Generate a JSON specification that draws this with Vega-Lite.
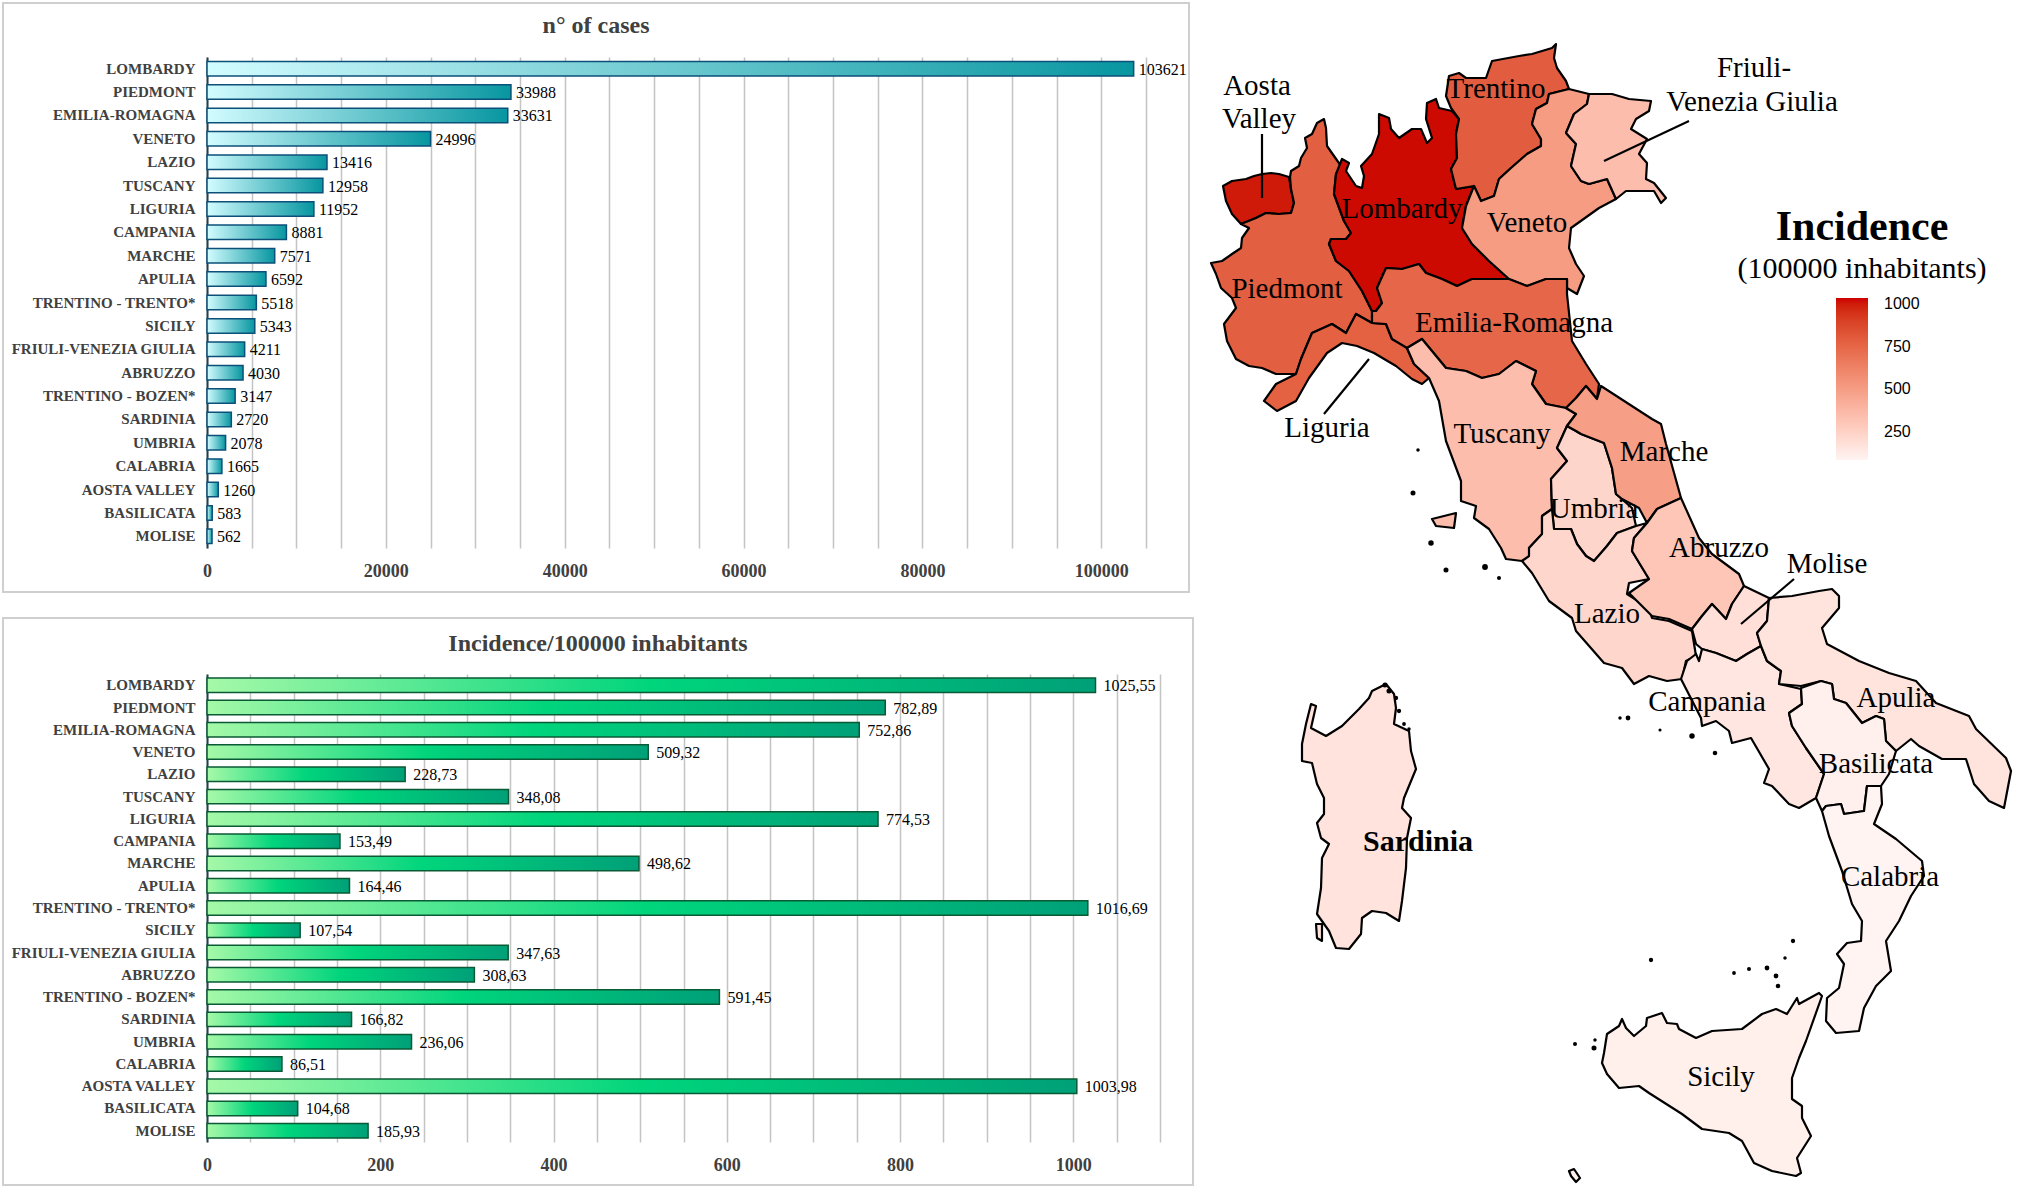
{"$schema":"https://vega.github.io/schema/vega-lite/v6.json","background":"white","padding":{"left":2,"top":2,"right":0,"bottom":0},"config":{"view":{"stroke":null},"text":{"font":"Liberation Serif"},"title":{"font":"Liberation Serif"}},"spacing":7,
"datasets":{"regions":[
{"region":"LOMBARDY","cases":103621,"incidence":1025.55,"incidence_text":"1025,55"},
{"region":"PIEDMONT","cases":33988,"incidence":782.89,"incidence_text":"782,89"},
{"region":"EMILIA-ROMAGNA","cases":33631,"incidence":752.86,"incidence_text":"752,86"},
{"region":"VENETO","cases":24996,"incidence":509.32,"incidence_text":"509,32"},
{"region":"LAZIO","cases":13416,"incidence":228.73,"incidence_text":"228,73"},
{"region":"TUSCANY","cases":12958,"incidence":348.08,"incidence_text":"348,08"},
{"region":"LIGURIA","cases":11952,"incidence":774.53,"incidence_text":"774,53"},
{"region":"CAMPANIA","cases":8881,"incidence":153.49,"incidence_text":"153,49"},
{"region":"MARCHE","cases":7571,"incidence":498.62,"incidence_text":"498,62"},
{"region":"APULIA","cases":6592,"incidence":164.46,"incidence_text":"164,46"},
{"region":"TRENTINO - TRENTO*","cases":5518,"incidence":1016.69,"incidence_text":"1016,69"},
{"region":"SICILY","cases":5343,"incidence":107.54,"incidence_text":"107,54"},
{"region":"FRIULI-VENEZIA GIULIA","cases":4211,"incidence":347.63,"incidence_text":"347,63"},
{"region":"ABRUZZO","cases":4030,"incidence":308.63,"incidence_text":"308,63"},
{"region":"TRENTINO - BOZEN*","cases":3147,"incidence":591.45,"incidence_text":"591,45"},
{"region":"SARDINIA","cases":2720,"incidence":166.82,"incidence_text":"166,82"},
{"region":"UMBRIA","cases":2078,"incidence":236.06,"incidence_text":"236,06"},
{"region":"CALABRIA","cases":1665,"incidence":86.51,"incidence_text":"86,51"},
{"region":"AOSTA VALLEY","cases":1260,"incidence":1003.98,"incidence_text":"1003,98"},
{"region":"BASILICATA","cases":583,"incidence":104.68,"incidence_text":"104,68"},
{"region":"MOLISE","cases":562,"incidence":185.93,"incidence_text":"185,93"}
],
"map":[
{"type":"Feature","properties":{"name":"Aosta Valley","incidence":1003.98},"geometry":{"type":"Polygon","coordinates":[[[1224,185],[1233,180],[1247,178],[1255,175],[1263,173],[1272,172],[1280,173],[1290,176],[1292,188],[1295,202],[1292,212],[1280,213],[1267,212],[1257,217],[1242,223],[1233,213],[1227,200],[1224,185]]]}},
{"type":"Feature","properties":{"name":"Piedmont","incidence":782.89},"geometry":{"type":"Polygon","coordinates":[[[1325,118],[1318,122],[1313,133],[1306,137],[1308,147],[1302,157],[1300,165],[1292,170],[1291,176],[1292,188],[1295,202],[1292,212],[1280,213],[1267,212],[1257,217],[1242,223],[1250,227],[1243,237],[1242,247],[1233,253],[1223,260],[1212,262],[1217,273],[1222,287],[1233,297],[1237,307],[1225,323],[1228,340],[1237,358],[1250,365],[1263,367],[1277,373],[1297,373],[1302,358],[1313,332],[1333,323],[1347,332],[1357,313],[1373,322],[1373,310],[1363,290],[1350,270],[1337,260],[1330,243],[1332,238],[1347,238],[1352,232],[1345,220],[1335,193],[1337,173],[1342,165],[1328,145],[1327,127],[1325,118]]]}},
{"type":"Feature","properties":{"name":"Lombardy","incidence":1025.55},"geometry":{"type":"Polygon","coordinates":[[[1380,113],[1390,117],[1392,128],[1400,137],[1413,128],[1422,128],[1428,142],[1433,137],[1427,118],[1428,102],[1437,98],[1440,107],[1453,110],[1460,118],[1457,133],[1458,157],[1452,168],[1457,188],[1475,185],[1467,205],[1463,227],[1473,243],[1490,260],[1510,278],[1493,278],[1473,278],[1458,285],[1443,278],[1427,272],[1420,263],[1403,268],[1387,267],[1378,287],[1383,302],[1377,310],[1373,310],[1363,290],[1350,270],[1337,260],[1330,243],[1332,238],[1347,238],[1352,232],[1345,220],[1335,193],[1337,173],[1343,158],[1350,162],[1347,170],[1357,185],[1363,187],[1365,175],[1362,165],[1373,153],[1380,133],[1380,113]]]}},
{"type":"Feature","properties":{"name":"Trentino","incidence":791},"geometry":{"type":"Polygon","coordinates":[[[1557,43],[1553,47],[1533,53],[1520,55],[1493,60],[1487,77],[1467,77],[1460,72],[1450,75],[1447,95],[1452,107],[1460,118],[1457,133],[1458,157],[1452,168],[1457,188],[1475,185],[1482,200],[1495,195],[1500,178],[1512,167],[1528,153],[1542,145],[1542,138],[1533,123],[1537,108],[1548,102],[1550,93],[1570,88],[1567,80],[1558,67],[1555,57],[1557,43]]]}},
{"type":"Feature","properties":{"name":"Veneto","incidence":509.32},"geometry":{"type":"Polygon","coordinates":[[[1570,88],[1590,93],[1588,103],[1575,113],[1567,132],[1577,143],[1572,165],[1582,180],[1590,183],[1608,178],[1617,198],[1600,207],[1572,227],[1570,247],[1577,263],[1585,275],[1578,293],[1568,287],[1568,278],[1547,278],[1528,285],[1510,278],[1490,260],[1473,243],[1463,227],[1467,205],[1475,185],[1482,200],[1495,195],[1500,178],[1512,167],[1528,153],[1542,145],[1542,138],[1533,123],[1537,108],[1548,102],[1550,93],[1570,88]]]}},
{"type":"Feature","properties":{"name":"Friuli-Venezia Giulia","incidence":347.63},"geometry":{"type":"Polygon","coordinates":[[[1590,93],[1613,93],[1630,98],[1652,100],[1650,110],[1637,118],[1632,128],[1648,138],[1640,153],[1648,162],[1647,178],[1655,182],[1667,197],[1662,202],[1655,190],[1643,190],[1627,190],[1617,198],[1608,178],[1590,183],[1582,180],[1572,165],[1577,143],[1567,132],[1575,113],[1588,103],[1590,93]]]}},
{"type":"Feature","properties":{"name":"Liguria","incidence":774.53},"geometry":{"type":"Polygon","coordinates":[[[1265,400],[1277,383],[1297,373],[1302,358],[1313,332],[1333,323],[1347,332],[1357,313],[1373,322],[1387,323],[1393,338],[1407,345],[1415,363],[1430,377],[1423,383],[1413,378],[1397,365],[1375,352],[1358,345],[1343,342],[1328,352],[1310,377],[1297,400],[1278,410],[1265,400]]]}},
{"type":"Feature","properties":{"name":"Emilia-Romagna","incidence":752.86},"geometry":{"type":"Polygon","coordinates":[[[1387,267],[1403,268],[1420,263],[1427,272],[1443,278],[1458,285],[1473,278],[1493,278],[1510,278],[1528,285],[1547,278],[1568,278],[1568,293],[1573,340],[1587,363],[1600,383],[1598,398],[1587,385],[1577,397],[1567,407],[1547,403],[1533,383],[1537,370],[1517,360],[1500,373],[1483,377],[1467,370],[1447,367],[1423,338],[1408,347],[1393,338],[1387,323],[1373,322],[1373,310],[1377,310],[1383,302],[1378,287],[1387,267]]]}},
{"type":"Feature","properties":{"name":"Tuscany","incidence":348.08},"geometry":{"type":"MultiPolygon","coordinates":[[[[1408,347],[1423,338],[1447,367],[1467,370],[1483,377],[1500,373],[1517,360],[1537,370],[1533,383],[1547,403],[1567,407],[1577,413],[1568,425],[1558,447],[1568,460],[1552,478],[1553,508],[1543,515],[1543,533],[1530,547],[1532,555],[1523,560],[1507,558],[1502,547],[1490,528],[1475,517],[1477,505],[1462,500],[1462,480],[1447,440],[1440,400],[1430,377],[1415,363],[1408,347]]],[[[1433,518],[1457,512],[1455,527],[1437,525],[1433,518]]]]}},
{"type":"Feature","properties":{"name":"Umbria","incidence":236.06},"geometry":{"type":"Polygon","coordinates":[[[1577,430],[1582,433],[1605,442],[1613,467],[1617,493],[1633,507],[1637,525],[1618,532],[1608,545],[1595,560],[1587,555],[1578,543],[1572,528],[1555,528],[1553,508],[1552,478],[1568,460],[1558,447],[1568,425],[1577,430]]]}},
{"type":"Feature","properties":{"name":"Marche","incidence":498.62},"geometry":{"type":"Polygon","coordinates":[[[1602,385],[1653,418],[1662,423],[1667,443],[1682,497],[1658,508],[1648,522],[1640,507],[1623,498],[1617,493],[1613,467],[1605,442],[1582,433],[1577,430],[1568,425],[1577,413],[1567,407],[1577,397],[1587,385],[1598,398],[1602,385]]]}},
{"type":"Feature","properties":{"name":"Lazio","incidence":228.73},"geometry":{"type":"Polygon","coordinates":[[[1523,560],[1530,555],[1530,547],[1543,533],[1543,515],[1553,508],[1555,528],[1572,528],[1578,543],[1587,555],[1595,560],[1608,545],[1618,532],[1637,525],[1648,522],[1635,537],[1633,550],[1650,578],[1630,582],[1628,593],[1650,607],[1653,617],[1670,620],[1693,630],[1697,655],[1687,660],[1683,678],[1668,680],[1650,675],[1635,683],[1623,667],[1605,662],[1577,630],[1573,617],[1550,600],[1533,572],[1523,560]]]}},
{"type":"Feature","properties":{"name":"Abruzzo","incidence":308.63},"geometry":{"type":"Polygon","coordinates":[[[1682,497],[1700,537],[1713,553],[1740,573],[1745,585],[1733,603],[1727,618],[1713,603],[1703,615],[1693,628],[1670,618],[1653,615],[1630,592],[1650,578],[1633,550],[1635,537],[1648,522],[1658,508],[1682,497]]]}},
{"type":"Feature","properties":{"name":"Molise","incidence":185.93},"geometry":{"type":"Polygon","coordinates":[[[1745,585],[1770,597],[1768,620],[1758,632],[1762,645],[1748,653],[1737,660],[1717,652],[1703,648],[1697,643],[1693,628],[1703,615],[1713,603],[1727,618],[1733,603],[1745,585]]]}},
{"type":"Feature","properties":{"name":"Campania","incidence":153.49},"geometry":{"type":"Polygon","coordinates":[[[1703,648],[1717,652],[1737,660],[1748,653],[1762,645],[1768,660],[1782,670],[1780,683],[1802,688],[1803,703],[1790,712],[1793,725],[1807,747],[1825,773],[1817,797],[1800,807],[1790,803],[1773,785],[1765,782],[1770,768],[1752,737],[1733,742],[1730,730],[1717,720],[1703,725],[1702,717],[1682,678],[1688,660],[1697,653],[1700,660],[1703,648]]]}},
{"type":"Feature","properties":{"name":"Apulia","incidence":164.46},"geometry":{"type":"Polygon","coordinates":[[[1770,597],[1793,595],[1820,590],[1833,588],[1840,595],[1840,607],[1823,627],[1828,643],[1860,660],[1890,672],[1917,680],[1937,702],[1970,715],[1977,728],[2007,757],[2012,770],[2005,807],[1990,800],[1975,783],[1967,758],[1943,758],[1920,745],[1912,738],[1897,750],[1887,740],[1885,718],[1877,715],[1863,722],[1847,702],[1835,698],[1833,683],[1822,680],[1802,685],[1780,683],[1782,670],[1768,660],[1762,645],[1758,632],[1768,620],[1770,597]]]}},
{"type":"Feature","properties":{"name":"Basilicata","incidence":104.68},"geometry":{"type":"Polygon","coordinates":[[[1802,687],[1822,680],[1833,683],[1835,698],[1847,702],[1863,722],[1877,715],[1885,718],[1887,740],[1897,750],[1890,773],[1882,785],[1868,785],[1865,810],[1845,813],[1842,803],[1827,805],[1823,810],[1817,797],[1825,773],[1807,747],[1793,725],[1790,712],[1803,703],[1802,687]]]}},
{"type":"Feature","properties":{"name":"Calabria","incidence":86.51},"geometry":{"type":"Polygon","coordinates":[[[1823,810],[1827,805],[1842,803],[1845,813],[1865,810],[1868,785],[1882,785],[1883,803],[1875,823],[1897,838],[1923,860],[1925,875],[1912,895],[1900,920],[1887,940],[1892,970],[1877,985],[1865,1007],[1860,1030],[1837,1032],[1827,1020],[1828,997],[1840,987],[1845,963],[1838,953],[1848,942],[1862,940],[1863,920],[1853,903],[1843,870],[1830,835],[1823,810]]]}},
{"type":"Feature","properties":{"name":"Sicily","incidence":107.54},"geometry":{"type":"MultiPolygon","coordinates":[[[[1823,995],[1820,992],[1800,1003],[1798,997],[1788,1013],[1777,1008],[1763,1013],[1743,1028],[1713,1030],[1697,1037],[1680,1028],[1678,1023],[1668,1022],[1663,1012],[1648,1017],[1647,1025],[1635,1035],[1627,1027],[1623,1018],[1620,1025],[1608,1033],[1605,1052],[1603,1062],[1608,1073],[1620,1087],[1640,1085],[1650,1092],[1683,1113],[1703,1128],[1730,1132],[1743,1140],[1755,1162],[1773,1170],[1797,1175],[1802,1172],[1798,1157],[1812,1135],[1803,1117],[1803,1105],[1793,1098],[1793,1077],[1800,1057],[1807,1040],[1823,995]]],[[[1570,1170],[1575,1168],[1581,1177],[1577,1181],[1572,1175],[1570,1170]]]]}},
{"type":"Feature","properties":{"name":"Sardinia","incidence":166.82},"geometry":{"type":"MultiPolygon","coordinates":[[[[1373,690],[1387,683],[1395,693],[1397,707],[1395,723],[1410,730],[1412,750],[1417,768],[1405,797],[1403,807],[1412,817],[1408,837],[1407,867],[1403,900],[1400,920],[1387,912],[1373,910],[1363,917],[1362,933],[1350,948],[1337,947],[1330,930],[1318,913],[1322,887],[1323,857],[1330,843],[1322,837],[1318,822],[1325,813],[1325,797],[1318,783],[1313,762],[1303,760],[1303,743],[1307,723],[1312,703],[1317,705],[1312,727],[1327,735],[1343,725],[1360,708],[1370,697],[1373,690]]],[[[1317,923],[1323,923],[1323,940],[1318,937],[1317,923]]]]}}
],
"islands":[{"x":1419,"y":449,"area":14},{"x":1414,"y":492,"area":26},{"x":1432,"y":542,"area":30},{"x":1447,"y":569,"area":26},{"x":1486,"y":566,"area":34},{"x":1500,"y":577,"area":18},{"x":1621,"y":717,"area":14},{"x":1629,"y":717,"area":24},{"x":1661,"y":729,"area":12},{"x":1693,"y":735,"area":30},{"x":1716,"y":752,"area":22},{"x":1652,"y":959,"area":20},{"x":1735,"y":972,"area":16},{"x":1750,"y":968,"area":18},{"x":1768,"y":967,"area":24},{"x":1777,"y":975,"area":24},{"x":1779,"y":985,"area":22},{"x":1786,"y":957,"area":14},{"x":1794,"y":940,"area":20},{"x":1576,"y":1043,"area":18},{"x":1595,"y":1047,"area":26},{"x":1596,"y":1039,"area":14},{"x":1386,"y":684,"area":26},{"x":1390,"y":690,"area":26},{"x":1397,"y":697,"area":20},{"x":1400,"y":710,"area":20},{"x":1405,"y":723,"area":16},{"x":1410,"y":728,"area":14}],
"leaders":[{"label":"Aosta Valley","x":1263,"y":133,"x2":1263,"y2":197},{"label":"Friuli-Venezia Giulia","x":1690,"y":120,"x2":1605,"y2":160},{"label":"Liguria","x":1370,"y":358,"x2":1325,"y2":413},{"label":"Molise","x":1795,"y":578,"x2":1742,"y2":623}],
"labels":[{"t":"Aosta","x":1258,"y":85},{"t":"Valley","x":1260,"y":118},{"t":"Trentino","x":1497,"y":88},{"t":"Lombardy","x":1403,"y":208},{"t":"Veneto","x":1528,"y":222},{"t":"Piedmont","x":1288,"y":288},{"t":"Emilia-Romagna","x":1515,"y":322},{"t":"Liguria","x":1328,"y":427},{"t":"Tuscany","x":1503,"y":433},{"t":"Umbria","x":1595,"y":508},{"t":"Marche","x":1665,"y":451},{"t":"Abruzzo","x":1720,"y":547},{"t":"Molise","x":1828,"y":563},{"t":"Lazio","x":1608,"y":613},{"t":"Campania","x":1708,"y":701},{"t":"Apulia","x":1897,"y":697},{"t":"Basilicata","x":1877,"y":763},{"t":"Calabria","x":1891,"y":876},{"t":"Sicily","x":1722,"y":1076},{"t":"Friuli-","x":1755,"y":67},{"t":"Venezia Giulia","x":1753,"y":101}]
},
"hconcat":[
{"vconcat":[
{"width":939,"height":491,"title":{"text":"n° of cases","frame":"bounds","anchor":"middle","offset":-36,"fontSize":24,"fontWeight":"bold","color":"#404040"},
"layer":[
{"data":{"values":[{"frame":"panel"}]},"mark":{"type":"rect","fill":null,"stroke":"#cfcfcf","strokeWidth":2},"encoding":{"x":{"value":-204},"x2":{"value":982},"y":{"value":-54},"y2":{"value":535}}},
{"data":{"name":"regions"},"mark":{"type":"bar","stroke":"#0c4f78","strokeWidth":1.5,"color":{"gradient":"linear","x1":0,"y1":0,"x2":1,"y2":0,"stops":[{"offset":0,"color":"#d2fcff"},{"offset":1,"color":"#0796a0"}]}},
"encoding":{"y":{"field":"region","type":"nominal","sort":null,"title":null,"scale":{"paddingInner":0.38,"paddingOuter":0.19},"axis":{"ticks":false,"domainColor":"#20404f","domainWidth":2,"labelPadding":12,"labelFont":"Liberation Serif","labelFontWeight":"bold","labelFontSize":15,"labelColor":"#404040","labelLimit":300}},
"x":{"field":"cases","type":"quantitative","title":null,"scale":{"domain":[0,105000],"nice":false},"axis":{"values":[0,5000,10000,15000,20000,25000,30000,35000,40000,45000,50000,55000,60000,65000,70000,75000,80000,85000,90000,95000,100000,105000],"format":"d","labelExpr":"datum.value % 20000 === 0 ? datum.label : ''","labelOverlap":false,"labelFlush":false,"ticks":false,"domain":false,"grid":true,"gridColor":"#c4c4c4","gridWidth":1.5,"labelPadding":14,"labelFont":"Liberation Serif","labelFontWeight":"bold","labelFontSize":18,"labelColor":"#404040"}}}},
{"data":{"name":"regions"},"mark":{"type":"text","align":"left","baseline":"middle","dx":5,"dy":1,"fontSize":16,"color":"#000000","font":"Liberation Serif"},
"encoding":{"y":{"field":"region","type":"nominal","sort":null},"x":{"field":"cases","type":"quantitative"},"text":{"field":"cases","type":"quantitative","format":"d"}}}
]},
{"width":953,"height":468,"title":{"text":"Incidence/100000 inhabitants","frame":"bounds","anchor":"middle","offset":-39,"fontSize":24,"fontWeight":"bold","color":"#404040"},
"layer":[
{"data":{"values":[{"frame":"panel"}]},"mark":{"type":"rect","fill":null,"stroke":"#cfcfcf","strokeWidth":2},"encoding":{"x":{"value":-204},"x2":{"value":986},"y":{"value":-56},"y2":{"value":511}}},
{"data":{"name":"regions"},"mark":{"type":"bar","stroke":"#0a5a35","strokeWidth":1.5,"color":{"gradient":"linear","x1":0,"y1":0,"x2":1,"y2":0,"stops":[{"offset":0,"color":"#a5f9a8"},{"offset":0.5,"color":"#00d57c"},{"offset":1,"color":"#00a078"}]}},
"encoding":{"y":{"field":"region","type":"nominal","sort":null,"title":null,"scale":{"paddingInner":0.35,"paddingOuter":0.18},"axis":{"ticks":false,"domainColor":"#20404f","domainWidth":2,"labelPadding":12,"labelFont":"Liberation Serif","labelFontWeight":"bold","labelFontSize":15,"labelColor":"#404040","labelLimit":300}},
"x":{"field":"incidence","type":"quantitative","title":null,"scale":{"domain":[0,1100],"nice":false},"axis":{"values":[0,50,100,150,200,250,300,350,400,450,500,550,600,650,700,750,800,850,900,950,1000,1050,1100],"format":"d","labelExpr":"datum.value % 200 === 0 ? datum.label : ''","labelOverlap":false,"labelFlush":false,"ticks":false,"domain":false,"grid":true,"gridColor":"#c4c4c4","gridWidth":1.5,"labelPadding":14,"labelFont":"Liberation Serif","labelFontWeight":"bold","labelFontSize":18,"labelColor":"#404040"}}}},
{"data":{"name":"regions"},"mark":{"type":"text","align":"left","baseline":"middle","dx":8,"dy":1,"fontSize":16,"color":"#000000","font":"Liberation Serif"},
"encoding":{"y":{"field":"region","type":"nominal","sort":null},"x":{"field":"incidence","type":"quantitative"},"text":{"field":"incidence_text","type":"nominal"}}}
]}
],"spacing":24},
{"width":810,"height":1128,"projection":{"type":"identity","scale":1,"translate":[-1202,-56]},
"layer":[
{"data":{"name":"map"},"mark":{"type":"geoshape","clip":false,"stroke":"#000000","strokeWidth":2.2,"strokeJoin":"round"},
"encoding":{"fill":{"field":"properties.incidence","type":"quantitative","scale":{"domain":[86.51,1035],"range":["#fff4f2","#cc0000"],"interpolate":"lab"},"legend":{"title":null,"orient":"none","legendX":1629,"legendY":241,"direction":"vertical","gradientLength":162,"gradientThickness":32,"values":[250,500,750,1000],"format":"d","labelFont":"Liberation Sans","labelFontSize":16,"labelColor":"#000000","labelOffset":16,"gradientStrokeWidth":0}}}},
{"data":{"name":"islands"},"mark":{"type":"circle","clip":false,"color":"#000000","opacity":1},"encoding":{"longitude":{"field":"x","type":"quantitative"},"latitude":{"field":"y","type":"quantitative"},"size":{"field":"area","type":"quantitative","legend":null,"scale":{"domain":[12,34],"range":[10,34]}}}},
{"data":{"name":"leaders"},"mark":{"type":"rule","clip":false,"color":"#000000","strokeWidth":2.2},"encoding":{"longitude":{"field":"x","type":"quantitative"},"latitude":{"field":"y","type":"quantitative"},"longitude2":{"field":"x2"},"latitude2":{"field":"y2"}}},
{"data":{"name":"labels"},"mark":{"type":"text","clip":false,"font":"Liberation Serif","fontSize":29,"color":"#000000","baseline":"middle"},"encoding":{"longitude":{"field":"x","type":"quantitative"},"latitude":{"field":"y","type":"quantitative"},"text":{"field":"t","type":"nominal"}}},
{"data":{"values":[{"t":"Sardinia","x":1419,"y":841}]},"mark":{"type":"text","clip":false,"font":"Liberation Serif","fontSize":30,"fontWeight":"bold","color":"#000000","baseline":"middle"},"encoding":{"longitude":{"field":"x","type":"quantitative"},"latitude":{"field":"y","type":"quantitative"},"text":{"field":"t","type":"nominal"}}},
{"data":{"values":[{"t":"Incidence","x":1863,"y":226}]},"mark":{"type":"text","clip":false,"font":"Liberation Serif","fontSize":42,"fontWeight":"bold","color":"#000000","baseline":"middle"},"encoding":{"longitude":{"field":"x","type":"quantitative"},"latitude":{"field":"y","type":"quantitative"},"text":{"field":"t","type":"nominal"}}},
{"data":{"values":[{"t":"(100000 inhabitants)","x":1863,"y":268}]},"mark":{"type":"text","clip":false,"font":"Liberation Serif","fontSize":30,"color":"#000000","baseline":"middle"},"encoding":{"longitude":{"field":"x","type":"quantitative"},"latitude":{"field":"y","type":"quantitative"},"text":{"field":"t","type":"nominal"}}}
]}
]}
